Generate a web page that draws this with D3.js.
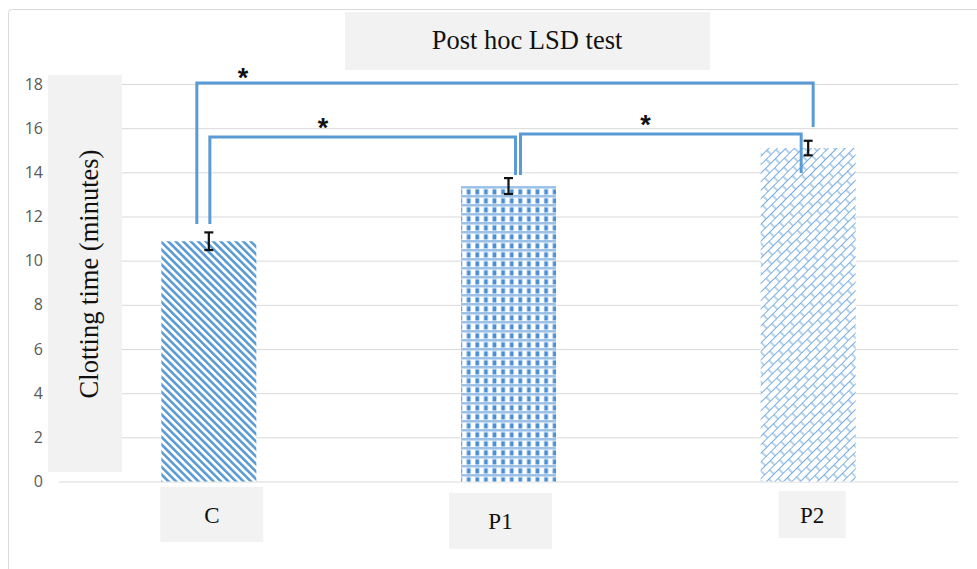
<!DOCTYPE html>
<html>
<head>
<meta charset="utf-8">
<script src="https://cdn.jsdelivr.net/npm/d3@7"></script>
<style>
  html, body { margin: 0; padding: 0; background: #fff; }
  svg { display: block; }
</style>
</head>
<body>
<svg id="chart" width="977" height="569"></svg>
<script>
// ---- data ----
const categories = ["C", "P1", "P2"];
const means = [10.88, 13.38, 15.1];
const errors = [0.4, 0.36, 0.33];
const yTicks = [0, 2, 4, 6, 8, 10, 12, 14, 16, 18];
const chartTitle = "Post hoc LSD test";
const yTitle = "Clotting time (minutes)";
// significance brackets: groups compared, bracket level and leg ends (in data units)
const bracketFrom = ["C", "C", "P1"];
const bracketTo = ["P2", "P1", "P2"];
const bracketLevel = [18.05, 15.6, 15.74];
const bracketFromEnd = [11.66, 11.66, 13.88];
const bracketToEnd = [16.05, 13.88, 13.97];
const bracketLabel = ["*", "*", "*"];

// ---- layout / style ----
const blue = "#5b9bd5";
const svg = d3.select("#chart");
const defs = svg.append("defs");

// patterns
const pC = defs.append("pattern").attr("id", "patC").attr("patternUnits", "userSpaceOnUse")
  .attr("width", 5.3).attr("height", 5.3).attr("patternTransform", "rotate(-45)");
pC.append("rect").attr("width", 5.3).attr("height", 5.3).attr("fill", "#fff");
pC.append("rect").attr("x", 0).attr("width", 2.6).attr("height", 5.3).attr("fill", blue);

const pP1 = defs.append("pattern").attr("id", "patP1").attr("patternUnits", "userSpaceOnUse")
  .attr("width", 8.6).attr("height", 9).attr("x", 2).attr("y", 0);
pP1.append("rect").attr("width", 8.6).attr("height", 9).attr("fill", "#dbe8f6");
pP1.append("rect").attr("x", 4.3).attr("y", 0).attr("width", 4.3).attr("height", 9).attr("fill", "#fff");
pP1.append("rect").attr("x", 0).attr("y", 6).attr("width", 8.6).attr("height", 2.5).attr("fill", "#9cc2e8");
pP1.append("rect").attr("x", 0.5).attr("y", 0.5).attr("width", 3.6).attr("height", 4.8).attr("fill", "#4a8fd4");

const pP2 = defs.append("pattern").attr("id", "patP2").attr("patternUnits", "userSpaceOnUse")
  .attr("width", 14).attr("height", 12).attr("patternTransform", "rotate(-45)");
pP2.append("rect").attr("width", 14).attr("height", 12).attr("fill", "#fff");
pP2.append("path")
  .attr("d", "M0,0.5H14 M0,6.5H14 M2,0.5V6.5 M9,6.5V12.5")
  .attr("stroke", "#7aaee0").attr("stroke-width", 1.1).attr("fill", "none");
const patterns = ["url(#patC)", "url(#patP1)", "url(#patP2)"];

// outer border
svg.append("rect").attr("x", 8.5).attr("y", 9.5).attr("width", 985).attr("height", 585)
  .attr("rx", 3).attr("fill", "#fff").attr("stroke", "#d9d9d9").attr("stroke-width", 1);

// scales
const x = d3.scaleBand().domain(categories).range([59, 958]).paddingInner(0.683).paddingOuter(0.3415);
const y = d3.scaleLinear().domain([0, 18]).range([481.5, 84]);

// gridlines via axis
const gridAxis = d3.axisLeft(y).tickValues(yTicks).tickSize(-(958 - 59)).tickFormat("");
const gg = svg.append("g").attr("transform", "translate(59,0)").call(gridAxis);
gg.select(".domain").remove();
gg.selectAll("line").attr("stroke", "#d9d9d9").attr("stroke-width", 1);

// y title box
svg.append("rect").attr("x", 48).attr("y", 75).attr("width", 74).attr("height", 397).attr("fill", "#f2f2f2");
svg.append("text").attr("transform", "translate(98,274) rotate(-90)")
  .attr("text-anchor", "middle").attr("font-family", "'Liberation Serif', 'Times New Roman', serif")
  .attr("font-size", 26.5).attr("fill", "#111").text(yTitle);

// y tick labels via axis
const yAxis = d3.axisLeft(y).tickValues(yTicks).tickSize(0).tickPadding(0).tickFormat(d3.format("d"));
const ya = svg.append("g").attr("transform", "translate(43,0)").call(yAxis);
ya.select(".domain").remove();
ya.selectAll("text").attr("font-family", "'Open Sans', 'Liberation Sans', sans-serif")
  .attr("font-size", 16).attr("fill", "#595959");

// title box
svg.append("rect").attr("x", 345).attr("y", 12).attr("width", 365).attr("height", 58).attr("fill", "#f2f2f2");
svg.append("text").attr("x", 527).attr("y", 49).attr("text-anchor", "middle")
  .attr("font-family", "'Liberation Serif', 'Times New Roman', serif").attr("font-size", 26.5)
  .attr("fill", "#111").text(chartTitle);

// bars
svg.append("g").selectAll("rect").data(categories).join("rect")
  .attr("x", d => x(d)).attr("width", x.bandwidth())
  .attr("y", (d, i) => y(means[i])).attr("height", (d, i) => y(0) - y(means[i]))
  .attr("fill", (d, i) => patterns[i]);

// x label boxes (offsets mimic the original's hand-placed labels)
const boxOffset = [{dx: -1, dy: 487, w: 103, h: 55}, {dx: -12, dy: 493, w: 103, h: 56}, {dx: 18, dy: 491, w: 67, h: 47}];
const xl = svg.append("g");
categories.forEach((c, i) => {
  const b = boxOffset[i];
  const bx = x(c) + b.dx;
  xl.append("rect").attr("x", bx).attr("y", b.dy).attr("width", b.w).attr("height", b.h).attr("fill", "#f2f2f2");
  xl.append("text").attr("x", bx + b.w / 2).attr("y", b.dy + b.h / 2 + 8).attr("text-anchor", "middle")
    .attr("font-family", "'Liberation Serif', 'Times New Roman', serif").attr("font-size", 23)
    .attr("fill", "#111").text(c);
});

// brackets
const legOffsetFrom = [-12, 1, 12];
const legOffsetTo = [5, 7, -7];
const starFrac = [0.075, 0.37, 0.445];
const starDy = [0, -4, -4];
const bg = svg.append("g");
bracketFrom.forEach((f, i) => {
  const x1 = x(f) + x.bandwidth() / 2 + legOffsetFrom[i];
  const x2 = x(bracketTo[i]) + x.bandwidth() / 2 + legOffsetTo[i];
  const yl = y(bracketLevel[i]);
  bg.append("path")
    .attr("d", `M${x1},${y(bracketFromEnd[i])}V${yl}H${x2}V${y(bracketToEnd[i])}`)
    .attr("fill", "none").attr("stroke", blue).attr("stroke-width", 3);
  bg.append("text").attr("x", x1 + (x2 - x1) * starFrac[i]).attr("y", yl + starDy[i] + 4)
    .attr("text-anchor", "middle").attr("font-family", "'Liberation Sans', Arial, sans-serif")
    .attr("font-weight", "bold").attr("font-size", 27).attr("fill", "#111").text(bracketLabel[i]);
});

// error bars
const eg = svg.append("g").attr("stroke", "#111").attr("stroke-width", 2.2);
categories.forEach((c, i) => {
  const cx = x(c) + x.bandwidth() / 2;
  const y1 = y(means[i] + errors[i]), y2 = y(means[i] - errors[i]);
  eg.append("line").attr("x1", cx).attr("x2", cx).attr("y1", y1).attr("y2", y2);
  eg.append("line").attr("x1", cx - 4.5).attr("x2", cx + 4.5).attr("y1", y1).attr("y2", y1);
  eg.append("line").attr("x1", cx - 4.5).attr("x2", cx + 4.5).attr("y1", y2).attr("y2", y2);
});
</script>
</body>
</html>
